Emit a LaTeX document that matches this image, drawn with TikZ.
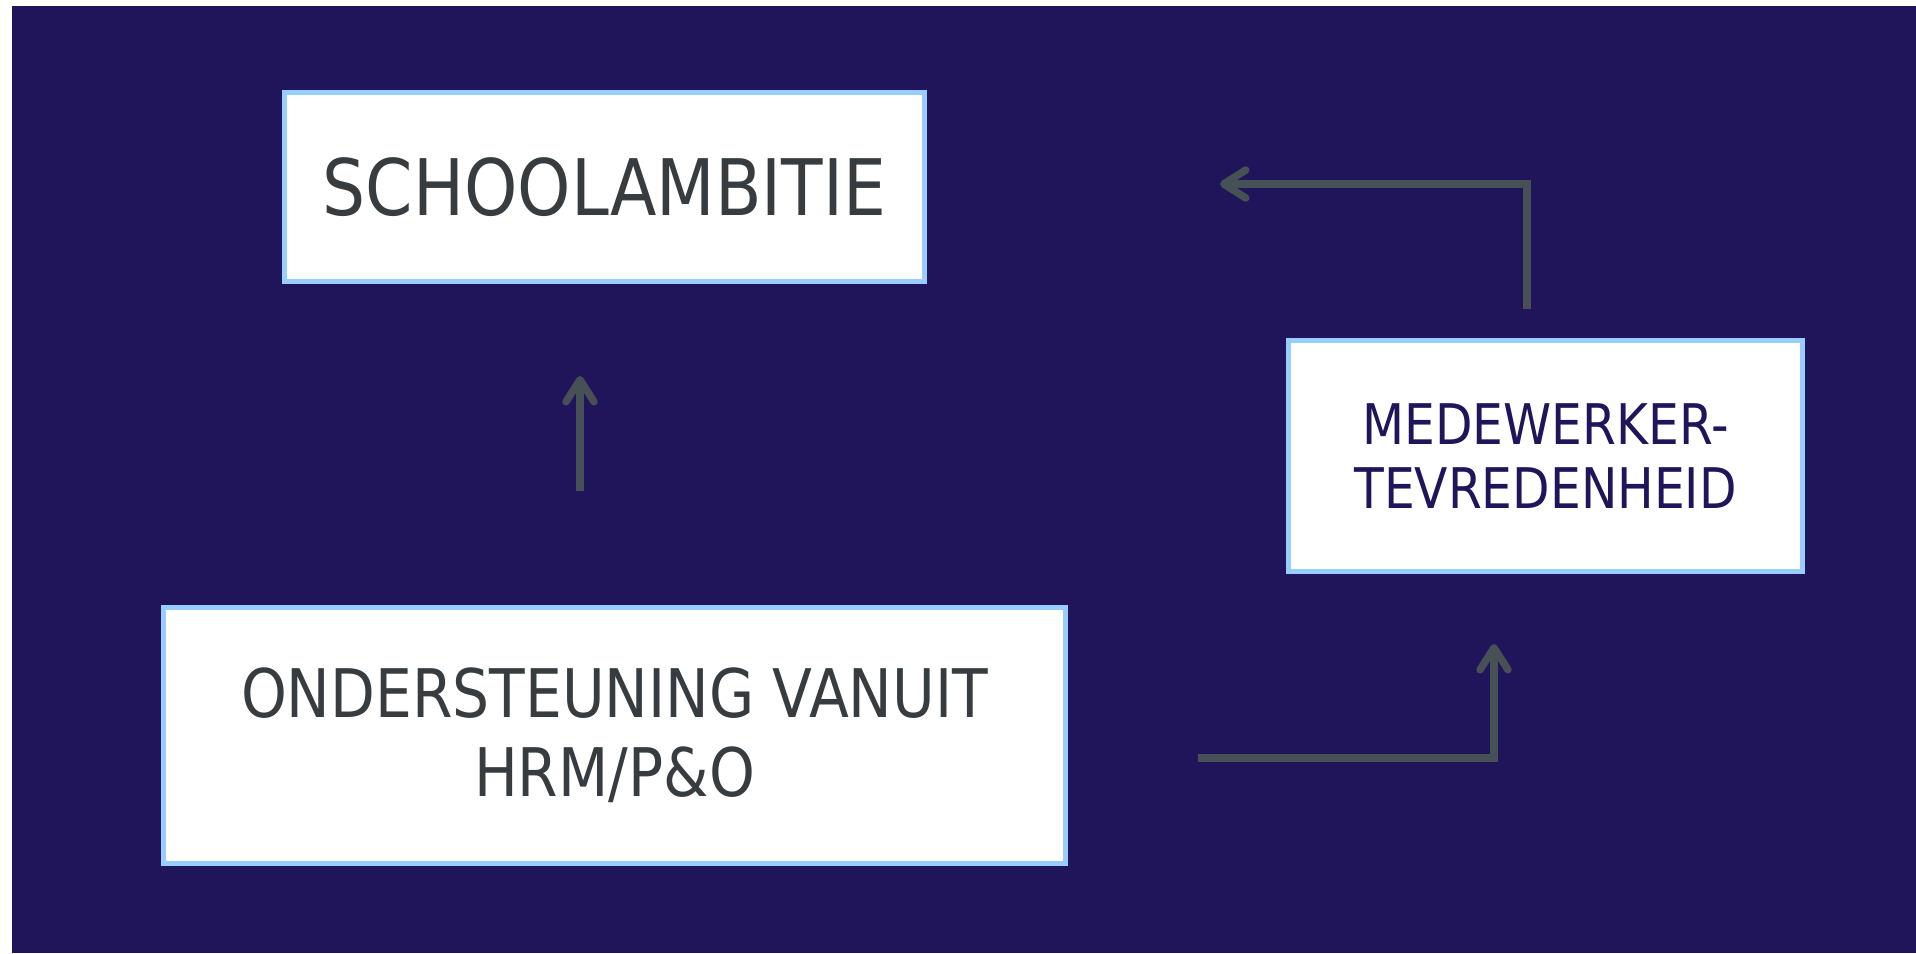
\documentclass[tikz,border=0pt]{standalone}
\usepackage{fontspec}
\setmainfont{DejaVu Sans}[FakeStretch=0.87]
\usepackage{xcolor}
\usetikzlibrary{arrows.meta,positioning}
\definecolor{schoolNavy}{RGB}{32,20,91}
\definecolor{borderBlue}{RGB}{153,204,255}
\definecolor{textGray}{RGB}{55,60,64}
\definecolor{arrowGray}{RGB}{70,80,85}

\begin{document}
\begin{tikzpicture}[x=1pt,y=-1pt,
    box/.style={draw=borderBlue,line width=5pt,fill=white,align=center,inner sep=0pt},
    flow/.style={draw=arrowGray,line width=7.5pt,-{Straight Barb[length=22pt,width=28pt,round]}}]
                    \useasboundingbox (0,0) rectangle (1916,953);
                    \fill[schoolNavy] (12,6) rectangle (1916,953);

                    \node[box,minimum width=640pt,minimum height=189pt,text=textGray,
                          font=\fontsize{78}{86}\selectfont] (ambitie) at (604.5,187) {SCHOOLAMBITIE};
                    \node[box,minimum width=902pt,minimum height=256pt,text=textGray,
                          font=\fontsize{67}{79}\selectfont] (steun) at (614.5,735.5) {ONDERSTEUNING VANUIT\\HRM/P\&O};
                    \node[box,minimum width=514pt,minimum height=231pt,text=schoolNavy,
                          font=\fontsize{56}{64}\selectfont] (tevreden) at (1545.5,456) {MEDEWERKER-\\TEVREDENHEID};

                    % losse pijlen tussen de blokken
                    \coordinate (upStart) at (580,491);
                    \coordinate (upEnd) at (580,376);
                    \coordinate (rightStart) at (1198,758);
                    \coordinate (rightEnd) at (1494,644);
                    \coordinate (backStart) at (1527,309);
                    \coordinate (backEnd) at (1220,184);

                    \draw[flow] (upStart) -- (upEnd);
                    \draw[flow] (rightStart) -| (rightEnd);
                    \draw[flow] (backStart) |- (backEnd);
                \end{tikzpicture}
\end{document}
